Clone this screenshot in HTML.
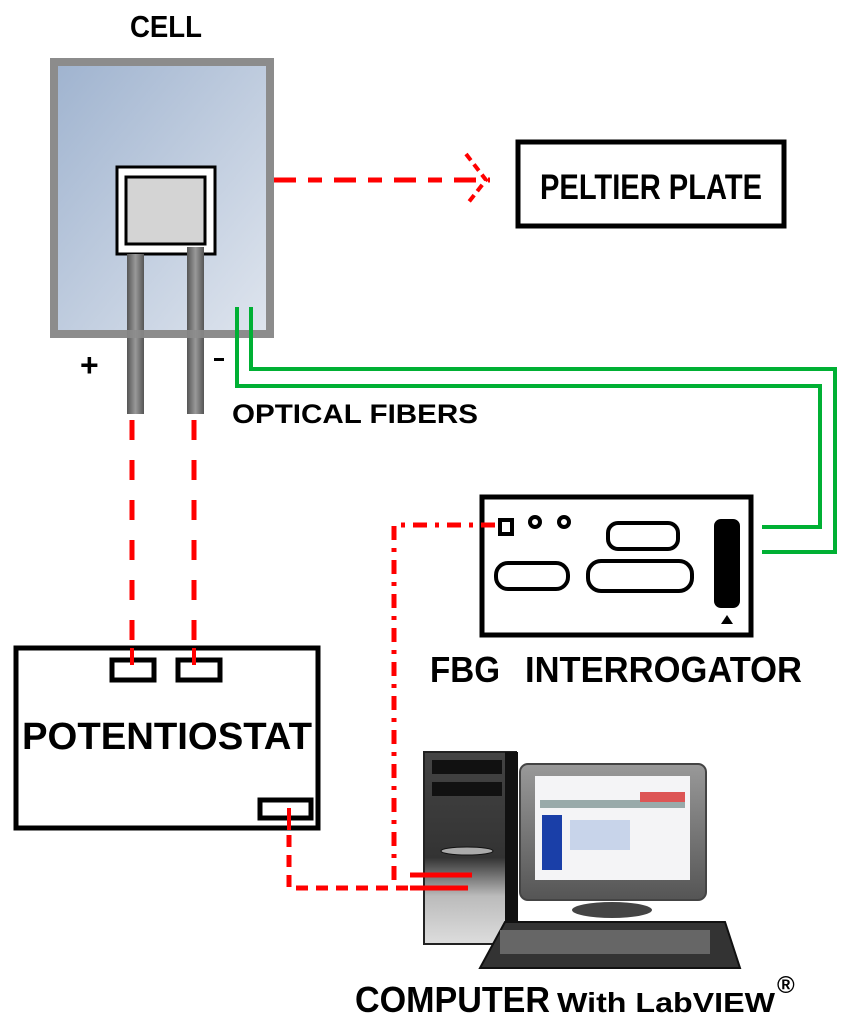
<!DOCTYPE html>
<html><head><meta charset="utf-8"><style>
html,body{margin:0;padding:0;background:#fff;width:848px;height:1024px;overflow:hidden}
svg{display:block}
text{font-family:"Liberation Sans",sans-serif;font-weight:bold;fill:#000}
</style></head><body>
<svg width="848" height="1024" viewBox="0 0 848 1024" xmlns="http://www.w3.org/2000/svg">
<defs>
<linearGradient id="cg" x1="0" y1="0" x2="1" y2="1">
<stop offset="0" stop-color="#9fb3cf"/><stop offset="1" stop-color="#dfe5ee"/></linearGradient>
<linearGradient id="rod" x1="0" x2="1"><stop offset="0" stop-color="#555"/><stop offset="0.5" stop-color="#999"/><stop offset="1" stop-color="#555"/></linearGradient>
<linearGradient id="tw" x1="0" y1="0" x2="0" y2="1"><stop offset="0" stop-color="#444"/><stop offset="0.55" stop-color="#333"/><stop offset="0.75" stop-color="#bbb"/><stop offset="1" stop-color="#ddd"/></linearGradient>
<linearGradient id="mon" x1="0" y1="0" x2="0" y2="1"><stop offset="0" stop-color="#999"/><stop offset="1" stop-color="#555"/></linearGradient>
</defs>
<text x="130" y="37" font-size="31" textLength="72" lengthAdjust="spacingAndGlyphs">CELL</text>
<!-- cell -->
<rect x="54" y="62" width="216" height="272" fill="url(#cg)" stroke="#8c8c8c" stroke-width="8"/>
<rect x="117" y="167" width="98" height="87" fill="#fff" stroke="#000" stroke-width="3"/>
<rect x="126" y="177" width="79" height="67" fill="#d4d4d4" stroke="#000" stroke-width="3"/>
<rect x="127" y="254" width="17" height="160" fill="url(#rod)"/>
<rect x="187" y="247" width="17" height="167" fill="url(#rod)"/>
<rect x="50" y="330" width="224" height="8" fill="#8c8c8c" opacity="0.85"/>
<text x="80" y="376" font-size="32" font-weight="normal">+</text>
<rect x="214" y="358" width="10" height="3" fill="#000"/>
<!-- fibers -->
<polyline points="251,307 251,369 835,369 835,552 762,552" fill="none" stroke="#00b034" stroke-width="4"/>
<polyline points="237,307 237,386 820,386 820,527 762,527" fill="none" stroke="#00b034" stroke-width="4"/>
<text x="232" y="423" font-size="27" textLength="246" lengthAdjust="spacingAndGlyphs">OPTICAL FIBERS</text>
<!-- peltier -->
<line x1="274" y1="180" x2="490" y2="180" stroke="#f00" stroke-width="5" stroke-dasharray="22,12,14,12"/>
<polyline points="466,154 486,180 468,203" fill="none" stroke="#f00" stroke-width="4" stroke-dasharray="8,5"/>
<rect x="518" y="142" width="266" height="84" fill="#fff" stroke="#000" stroke-width="5"/>
<text x="540" y="199" font-size="35" textLength="222" lengthAdjust="spacingAndGlyphs">PELTIER PLATE</text>
<!-- interrogator -->
<rect x="482" y="497" width="269" height="138" fill="#fff" stroke="#000" stroke-width="5"/>
<g fill="none" stroke="#000" stroke-width="4">
<rect x="500" y="520" width="12" height="14"/><circle cx="535" cy="522" r="5"/><circle cx="564" cy="522" r="5"/>
<rect x="608" y="523" width="70" height="26" rx="10"/>
<rect x="496" y="563" width="72" height="26" rx="12"/><rect x="588" y="561" width="104" height="30" rx="13"/>
<rect x="716" y="521" width="22" height="85" rx="5" fill="#000"/>
</g>
<polygon points="721,624 733,624 727,615" fill="#000"/>
<text x="430" y="682" font-size="36" textLength="70" lengthAdjust="spacingAndGlyphs">FBG</text>
<text x="525" y="682" font-size="36" textLength="277" lengthAdjust="spacingAndGlyphs">INTERROGATOR</text>
<!-- red lines to potentiostat -->
<line x1="132" y1="420" x2="132" y2="665" stroke="#f00" stroke-width="5" stroke-dasharray="20,20"/>
<line x1="194" y1="420" x2="194" y2="665" stroke="#f00" stroke-width="5" stroke-dasharray="20,20"/>
<polyline points="495,525 394,525 394,888" fill="none" stroke="#f00" stroke-width="5" stroke-dasharray="14,8,4,8"/>
<polyline points="289,815 289,888 410,888" fill="none" stroke="#f00" stroke-width="5" stroke-dasharray="12,8"/>
<!-- potentiostat -->
<rect x="16" y="648" width="302" height="180" fill="#fff" stroke="#000" stroke-width="5"/>
<rect x="112" y="660" width="42" height="20" fill="#fff" stroke="#000" stroke-width="5"/>
<rect x="178" y="660" width="42" height="20" fill="#fff" stroke="#000" stroke-width="5"/>
<rect x="260" y="800" width="51" height="18" fill="#fff" stroke="#000" stroke-width="5"/>
<line x1="289" y1="808" x2="289" y2="830" stroke="#f00" stroke-width="4"/>
<line x1="132" y1="648" x2="132" y2="665" stroke="#f00" stroke-width="4"/>
<line x1="194" y1="648" x2="194" y2="665" stroke="#f00" stroke-width="4"/>
<text x="22" y="749" font-size="38" textLength="290" lengthAdjust="spacingAndGlyphs">POTENTIOSTAT</text>
<!-- computer tower -->
<rect x="424" y="752" width="92" height="192" fill="url(#tw)" stroke="#222" stroke-width="2"/>
<rect x="505" y="752" width="13" height="192" fill="#111"/>
<rect x="432" y="760" width="70" height="14" fill="#111"/><rect x="432" y="782" width="70" height="14" fill="#111"/>
<ellipse cx="467" cy="851" rx="26" ry="4" fill="#aaa" stroke="#111"/>
<!-- monitor -->
<rect x="520" y="764" width="186" height="136" rx="8" fill="url(#mon)" stroke="#444" stroke-width="2"/>
<rect x="535" y="776" width="155" height="104" fill="#f4f4f6"/>
<rect x="540" y="800" width="145" height="8" fill="#9aa"/>
<rect x="542" y="815" width="20" height="55" fill="#1a3fa8"/>
<rect x="570" y="820" width="60" height="30" fill="#c8d4ea"/>
<rect x="640" y="792" width="45" height="10" fill="#d55"/>
<ellipse cx="612" cy="910" rx="40" ry="8" fill="#444"/>
<!-- keyboard -->
<polygon points="505,922 725,922 740,968 480,968" fill="#333" stroke="#111" stroke-width="2"/>
<rect x="500" y="930" width="210" height="24" fill="#666"/>
<!-- red double lines -->
<line x1="410" y1="875" x2="472" y2="875" stroke="#f00" stroke-width="5"/>
<line x1="410" y1="888" x2="468" y2="888" stroke="#f00" stroke-width="5"/>
<text x="355" y="1012" font-size="36" textLength="195" lengthAdjust="spacingAndGlyphs">COMPUTER</text>
<text x="557" y="1012" font-size="28" textLength="218" lengthAdjust="spacingAndGlyphs">With LabVIEW</text>
<text x="777" y="993" font-size="24" font-weight="normal">®</text>
</svg>
</body></html>
